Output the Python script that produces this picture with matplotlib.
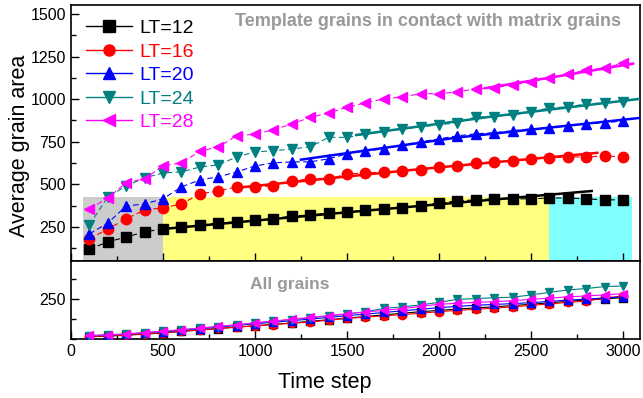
import matplotlib
matplotlib.use("Agg")
from matplotlib import pyplot as plt
from matplotlib.ticker import MultipleLocator

plt.rcParams['font.family'] = ['Liberation Sans', 'DejaVu Sans']

steps = list(range(100, 3001, 100))
labels = ['LT=12', 'LT=16', 'LT=20', 'LT=24', 'LT=28']
colors = ['black', '#FF0000', '#0000FF', '#008080', '#FF00FF']
markers = ['s', 'o', '^', 'v', '<']

# template grains in contact with matrix grains (top panel)
top_lt12 = [120, 162, 191, 221, 238, 250, 262, 273, 280, 291, 297, 315, 320, 332, 335,
            350, 356, 362, 373, 391, 403, 409, 415, 415, 415, 420, 420, 415, 409, 409]
top_lt16 = [180, 238, 297, 350, 362, 385, 444, 462, 485, 485, 491, 520, 532, 532, 561,
            567, 573, 579, 585, 602, 608, 626, 632, 638, 649, 655, 661, 661, 667, 661]
top_lt20 = [209, 273, 373, 385, 415, 485, 526, 544, 573, 608, 626, 632, 632, 650, 679,
            697, 708, 732, 750, 767, 785, 797, 803, 815, 826, 832, 844, 855, 861, 873]
top_lt24 = [262, 426, 491, 538, 567, 573, 602, 614, 661, 691, 697, 708, 720, 776, 776,
            794, 809, 826, 838, 850, 861, 897, 897, 908, 926, 949, 955, 972, 978, 985]
top_lt28 = [356, 420, 510, 532, 609, 626, 694, 720, 785, 795, 820, 855, 893, 920, 952,
            979, 1002, 1014, 1032, 1032, 1043, 1061, 1067, 1084, 1101, 1124, 1148, 1171, 1183, 1212]

# fitted curves
fit_x = [[500, 1500, 2830], [900, 1900, 2860], [1250, 2100, 3090], [1550, 2300, 3090], [2250, 2650, 3055]]
fit_y = [[238, 336, 461], [480, 590, 685], [645, 775, 890], [790, 900, 1002], [1065, 1135, 1209]]

# all grains (bottom panel)
all_lt12 = [14, 18, 24, 30, 38, 47, 56, 65, 74, 82, 91, 100, 110, 120, 130,
            140, 150, 160, 170, 178, 186, 194, 200, 208, 216, 225, 234, 242, 250, 257]
all_lt16 = [15, 20, 25, 32, 40, 48, 57, 66, 74, 82, 90, 98, 106, 117, 128,
            136, 144, 152, 160, 170, 178, 185, 192, 200, 209, 218, 228, 236, 255, 268]
all_lt20 = [20, 25, 30, 38, 46, 55, 64, 74, 84, 95, 104, 114, 124, 134, 145,
            155, 165, 175, 185, 195, 203, 210, 215, 220, 226, 234, 242, 248, 255, 262]
all_lt24 = [20, 24, 30, 38, 47, 57, 67, 77, 88, 99, 110, 121, 132, 143, 155,
            170, 190, 200, 212, 228, 247, 251, 257, 260, 274, 290, 305, 314, 326, 330]
all_lt28 = [22, 26, 32, 40, 49, 58, 68, 78, 89, 101, 112, 123, 134, 145, 157,
            168, 178, 189, 203, 216, 222, 228, 232, 238, 247, 254, 262, 268, 274, 282]

# shaded regimes: (x start, x end, y top, colour)
regions = [(65, 500, 425, '#CCCCCC'), (500, 2600, 425, '#FFFF80'), (2600, 3050, 425, '#80FFFF')]

top_series = [top_lt12, top_lt16, top_lt20, top_lt24, top_lt28]
all_series = [all_lt12, all_lt16, all_lt20, all_lt24, all_lt28]

fig = plt.figure(figsize=(6.43, 3.98), dpi=100)
ax1 = fig.add_axes([0.1104, 0.3442, 0.8849, 0.6432])
ax2 = fig.add_axes([0.1104, 0.1482, 0.8849, 0.196])

for x0, x1, ytop, c in regions:
    ax1.fill_between([x0, x1], 50, ytop, color=c, lw=0, zorder=0)

for i in range(5):
    ax1.plot(steps, top_series[i], color=colors[i], lw=0.8, ls=(0, (5, 3)),
             marker=markers[i], ms=7.5, mec=colors[i], zorder=3)
    ax1.plot(fit_x[i], fit_y[i], color=colors[i], lw=1.8, zorder=4)
    ax1.plot([], [], color=colors[i], lw=1, marker=markers[i], ms=8, label=labels[i])
    ax2.plot(steps, all_series[i], color=colors[i], lw=0.8, marker=markers[i], ms=6,
             mec=colors[i], zorder=3)

leg = ax1.legend(loc='upper left', bbox_to_anchor=(0.0, 1.0), frameon=False, fontsize=14,
                 handlelength=2.4, handletextpad=0.35, labelspacing=0.3, borderaxespad=0.45,
                 borderpad=0.3)
for t, c in zip(leg.get_texts(), colors):
    t.set_color(c)

ax1.text(0.966, 0.934, 'Template grains in contact with matrix grains', transform=ax1.transAxes,
         ha='right', va='center', fontsize=13, fontweight='bold', color='#999999')
ax2.text(0.385, 0.70, 'All grains', transform=ax2.transAxes, ha='center', va='center',
         fontsize=12.5, fontweight='bold', color='#999999')

ax1.set_xlim(0, 3092)
ax2.set_xlim(0, 3092)
ax1.set_ylim(50, 1553)
ax2.set_ylim(0, 485)

for ax in (ax1, ax2):
    ax.xaxis.set_major_locator(MultipleLocator(500))
    ax.xaxis.set_minor_locator(MultipleLocator(250))
    ax.tick_params(which='both', direction='in', top=False, right=False, labelsize=11.5, width=1)
    ax.tick_params(which='major', length=6)
    ax.tick_params(which='minor', length=3.5)
    for s in ax.spines.values():
        s.set_linewidth(1.2)

ax1.yaxis.set_major_locator(MultipleLocator(250))
ax1.yaxis.set_minor_locator(MultipleLocator(125))
ax1.set_yticks([250, 500, 750, 1000, 1250, 1500])
ax1.tick_params(axis='x', labelbottom=False)
ax2.set_yticks([250])
ax2.yaxis.set_minor_locator(MultipleLocator(125))

fig.text(0.5055, 0.038, 'Time step', ha='center', va='center', fontsize=15.5)
fig.text(0.03, 0.633, 'Average grain area', rotation=90, ha='center', va='center', fontsize=15.5)

fig.savefig('out.png', dpi=100)
